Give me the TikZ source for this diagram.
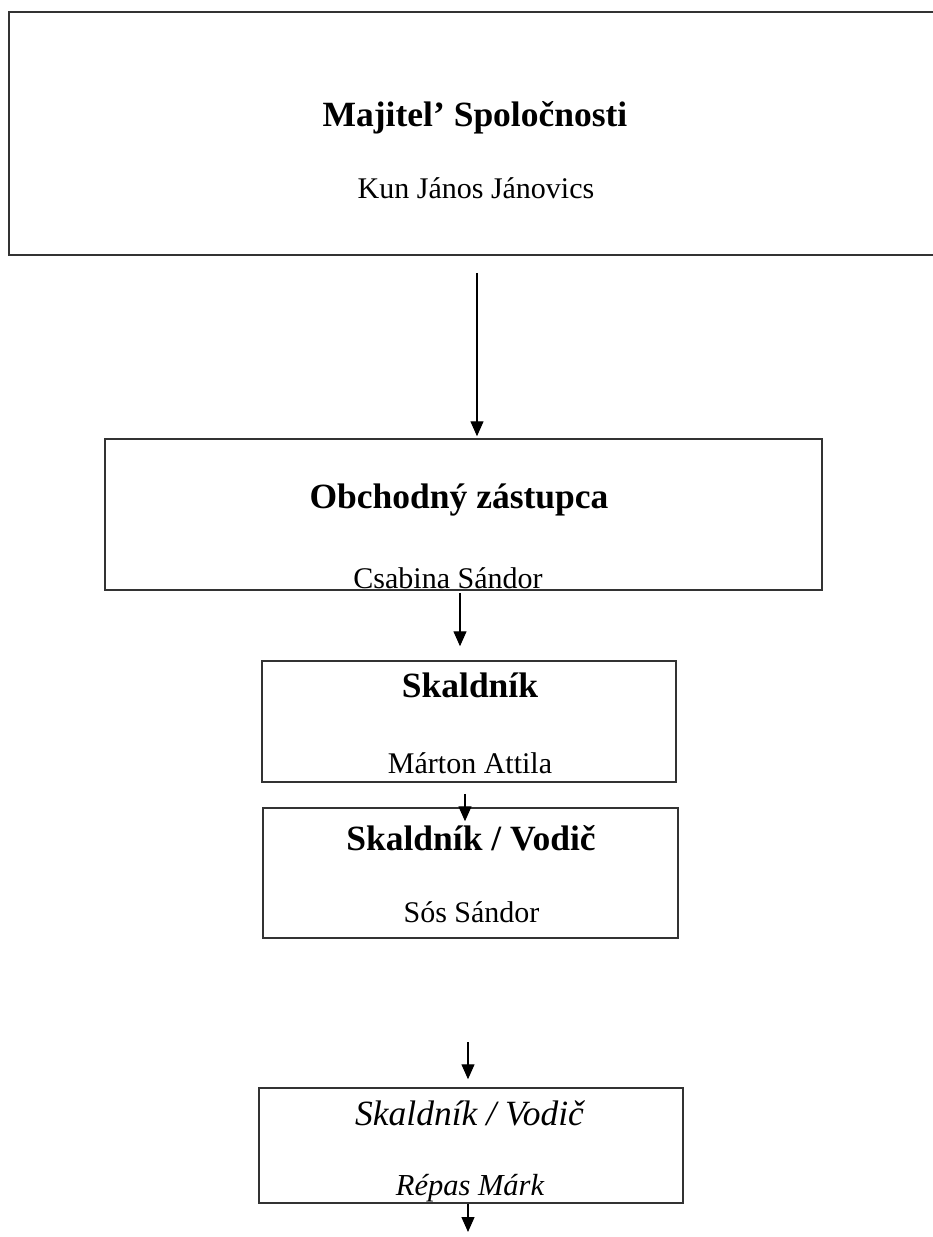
\documentclass[tikz,border=0pt]{standalone}
\usepackage{fontspec}
\setmainfont{Liberation Serif}
\usetikzlibrary{arrows.meta}

\begin{document}
\begin{tikzpicture}[x=1pt, y=-1pt,
		>={Triangle[width=13pt,length=15pt]},
		box/.style={
			rectangle,
			draw=black!80, line width=1.5pt,
			inner sep=0pt
		},
		title/.style={anchor=base, font=\fontsize{35.5}{42}\selectfont\bfseries},
		person/.style={anchor=base, font=\fontsize{30}{36}\selectfont},
		link/.style={->, line width=1.3pt}]

	\clip (0,0) rectangle (933,1237);
	\fill[white] (0,0) rectangle (933,1237);

	% Owner box (runs off the right edge)
	\node [box, minimum width=931pt, minimum height=243pt] (owner) at (474.5,133.5) {};
	\node [title] (ownerTitle) at (475,126) {Majitel’ Spoločnosti};
	\node [person] (ownerName) at (476,198) {Kun János Jánovics};

	% Sales representative box
	\node [box, minimum width=717pt, minimum height=151pt] (agent) at (463.5,514.5) {};
	\node [title] (agentTitle) at (459,508) {Obchodný zástupca};
	\node [person] (agentName) at (448,588) {Csabina Sándor};

	% Warehouse worker box
	\node [box, minimum width=414pt, minimum height=121pt] (worker) at (469,721.5) {};
	\node [title] (workerTitle) at (470,697) {Skaldník};
	\node [person] (workerName) at (470,773) {Márton Attila};

	% Warehouse worker / driver box
	\node [box, minimum width=415pt, minimum height=130pt] (driver) at (470.5,873) {};
	\node [title] (driverTitle) at (471,850) {Skaldník / Vodič};
	\node [person] (driverName) at (471.5,922) {Sós Sándor};

	% Second worker / driver box, set in italics
	\node [box, minimum width=424pt, minimum height=115pt] (driverB) at (471,1145.5) {};
	\node [title, font=\fontsize{35.5}{42}\selectfont\itshape] (driverBTitle) at (469.5,1125) {Skaldník / Vodič};
	\node [person, font=\fontsize{30.5}{36}\selectfont\itshape] (driverBName) at (470,1195) {Répas Márk};

	%% Arrow columns and free ends
	\coordinate (colA) at (477,0);
	\coordinate (colB) at (460,0);
	\coordinate (colC) at (465,0);
	\coordinate (gapStart) at (468,1042);
	\coordinate (tailEnd) at (468,1232);

	%% Connectors
	\draw [link, shorten <=17pt, shorten >=2pt] (owner.south -| colA) -- (agent.north -| colA);
	\draw [link, shorten <=2pt, shorten >=14pt] (agent.south -| colB) -- (worker.north -| colB);
	\draw [link, shorten <=11pt, shorten >=-14pt] (worker.south -| colC) -- (driver.north -| colC);
	\draw [link, shorten >=8pt] (gapStart) -- (driverB.north -| gapStart);
	\draw [link] (driverB.south -| tailEnd) -- (tailEnd);
\end{tikzpicture}
\end{document}
